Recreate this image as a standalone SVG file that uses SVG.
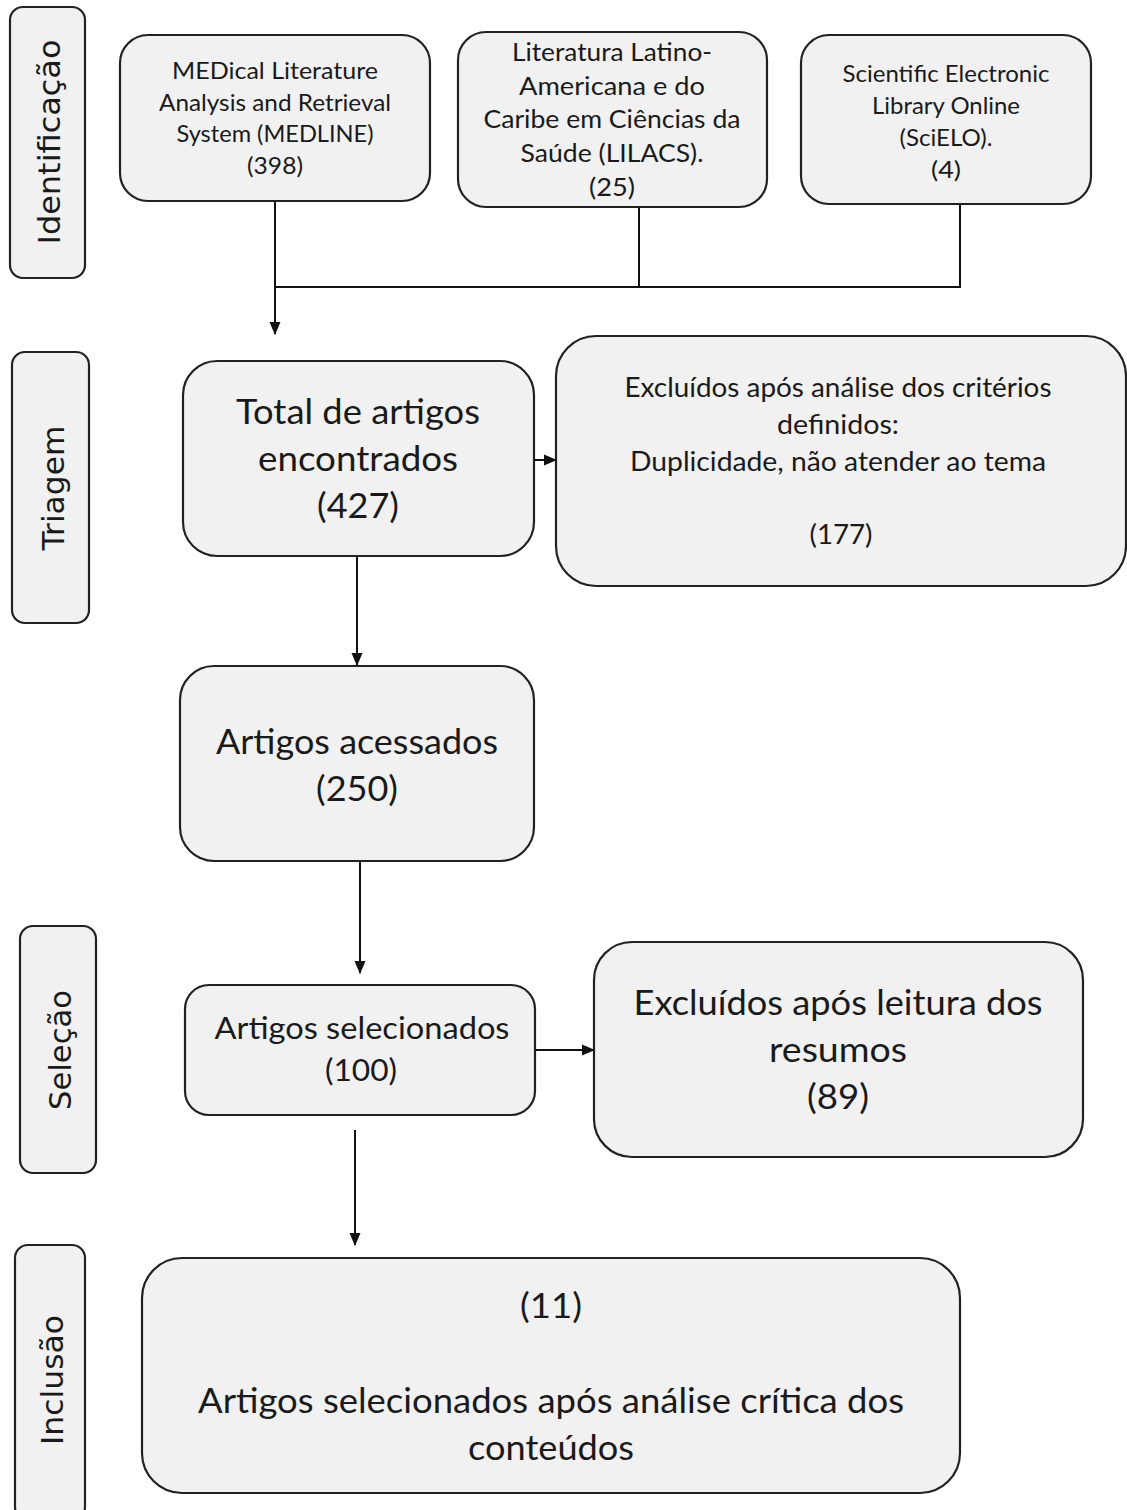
<svg xmlns="http://www.w3.org/2000/svg" width="1127" height="1510" viewBox="0 0 1127 1510">
<style>
.box{fill:#f0f1f0;stroke:#222;stroke-width:2.2}
.t{font-family:Lato,"Open Sans","Liberation Sans",sans-serif;fill:#1a1a1a;text-anchor:start}
.s{font-family:"DejaVu Sans","Liberation Sans",sans-serif;fill:#1a1a1a;text-anchor:start}
.c{stroke:#111;stroke-width:2;fill:none}
</style>
<defs>
<marker id="ah" markerUnits="userSpaceOnUse" markerWidth="13" markerHeight="13" refX="12" refY="6.5" orient="auto">
<path d="M0,1 L13,6.5 L0,12 z" fill="#111"/>
</marker>
</defs>
<rect width="1127" height="1510" fill="#fff"/>

<g id="lbl-identificacao">
<rect class="box" x="10" y="7" width="75" height="271" rx="13"/>
<text class="s" transform="translate(60,142) rotate(-90)" x="-102.5" y="0" font-size="30" textLength="205" lengthAdjust="spacingAndGlyphs">Identificação</text>
</g>
<g id="lbl-triagem">
<rect class="box" x="12" y="352" width="77" height="271" rx="13"/>
<text class="s" transform="translate(64,488) rotate(-90)" x="-62.5" y="0" font-size="30" textLength="125" lengthAdjust="spacingAndGlyphs">Triagem</text>
</g>
<g id="lbl-selecao">
<rect class="box" x="20" y="926" width="76" height="247" rx="13"/>
<text class="s" transform="translate(71,1050) rotate(-90)" x="-60" y="0" font-size="30" textLength="120" lengthAdjust="spacingAndGlyphs">Seleção</text>
</g>
<g id="lbl-inclusao">
<rect class="box" x="15" y="1245" width="70" height="275" rx="13"/>
<text class="s" transform="translate(63,1380) rotate(-90)" x="-65" y="0" font-size="30" textLength="130" lengthAdjust="spacingAndGlyphs">Inclusão</text>
</g>

<g id="medline">
<rect class="box" x="120" y="35" width="310" height="166" rx="28"/>
<text class="t" font-size="23">
<tspan x="172" y="79" textLength="206" lengthAdjust="spacingAndGlyphs">MEDical Literature</tspan>
<tspan x="159" y="111" textLength="232" lengthAdjust="spacingAndGlyphs">Analysis and Retrieval</tspan>
<tspan x="176.5" y="142" textLength="197" lengthAdjust="spacingAndGlyphs">System (MEDLINE)</tspan>
<tspan x="247" y="174" textLength="56" lengthAdjust="spacingAndGlyphs">(398)</tspan>
</text>
</g>
<g id="lilacs">
<rect class="box" x="458" y="32" width="309" height="175" rx="28"/>
<text class="t" font-size="25">
<tspan x="512" y="61" textLength="200" lengthAdjust="spacingAndGlyphs">Literatura Latino-</tspan>
<tspan x="519" y="95" textLength="186" lengthAdjust="spacingAndGlyphs">Americana e do</tspan>
<tspan x="483.5" y="128" textLength="257" lengthAdjust="spacingAndGlyphs">Caribe em Ciências da</tspan>
<tspan x="520.5" y="162" textLength="183" lengthAdjust="spacingAndGlyphs">Saúde (LILACS).</tspan>
<tspan x="589" y="196" textLength="46" lengthAdjust="spacingAndGlyphs">(25)</tspan>
</text>
</g>
<g id="scielo">
<rect class="box" x="801" y="35" width="290" height="169" rx="28"/>
<text class="t" font-size="23">
<tspan x="842.5" y="82" textLength="207" lengthAdjust="spacingAndGlyphs">Scientific Electronic</tspan>
<tspan x="872" y="114" textLength="148" lengthAdjust="spacingAndGlyphs">Library Online</tspan>
<tspan x="899.5" y="146" textLength="93" lengthAdjust="spacingAndGlyphs">(SciELO).</tspan>
<tspan x="931" y="178" textLength="30" lengthAdjust="spacingAndGlyphs">(4)</tspan>
</text>
</g>
<g id="total">
<rect class="box" x="183" y="361" width="351" height="195" rx="34"/>
<text class="t" font-size="35">
<tspan x="236" y="424" textLength="244" lengthAdjust="spacingAndGlyphs">Total de artigos</tspan>
<tspan x="258" y="471" textLength="200" lengthAdjust="spacingAndGlyphs">encontrados</tspan>
<tspan x="317" y="518" textLength="82" lengthAdjust="spacingAndGlyphs">(427)</tspan>
</text>
</g>
<g id="excl-criterios">
<rect class="box" x="556" y="336" width="570" height="250" rx="40"/>
<text class="t" font-size="26">
<tspan x="624.5" y="397" textLength="427" lengthAdjust="spacingAndGlyphs">Excluídos após análise dos critérios</tspan>
<tspan x="777" y="434" textLength="122" lengthAdjust="spacingAndGlyphs">definidos:</tspan>
<tspan x="630" y="471" textLength="416" lengthAdjust="spacingAndGlyphs">Duplicidade, não atender ao tema</tspan>
<tspan x="809.5" y="544" textLength="63" lengthAdjust="spacingAndGlyphs">(177)</tspan>
</text>
</g>
<g id="acessados">
<rect class="box" x="180" y="666" width="354" height="195" rx="34"/>
<text class="t" font-size="35">
<tspan x="216" y="754" textLength="282" lengthAdjust="spacingAndGlyphs">Artigos acessados</tspan>
<tspan x="316" y="801" textLength="82" lengthAdjust="spacingAndGlyphs">(250)</tspan>
</text>
</g>
<g id="selecionados">
<rect class="box" x="185" y="985" width="350" height="130" rx="24"/>
<text class="t" font-size="30">
<tspan x="214.5" y="1039" textLength="295" lengthAdjust="spacingAndGlyphs">Artigos selecionados</tspan>
<tspan x="325" y="1081" textLength="72" lengthAdjust="spacingAndGlyphs">(100)</tspan>
</text>
</g>
<g id="excl-resumos">
<rect class="box" x="594" y="942" width="489" height="215" rx="38"/>
<text class="t" font-size="35">
<tspan x="633.5" y="1015" textLength="409" lengthAdjust="spacingAndGlyphs">Excluídos após leitura dos</tspan>
<tspan x="769" y="1062" textLength="138" lengthAdjust="spacingAndGlyphs">resumos</tspan>
<tspan x="807" y="1109" textLength="62" lengthAdjust="spacingAndGlyphs">(89)</tspan>
</text>
</g>
<g id="final">
<rect class="box" x="142" y="1258" width="818" height="235" rx="40"/>
<text class="t" font-size="35">
<tspan x="520" y="1318" textLength="62" lengthAdjust="spacingAndGlyphs">(11)</tspan>
<tspan x="198" y="1413" textLength="706" lengthAdjust="spacingAndGlyphs">Artigos selecionados após análise crítica dos</tspan>
<tspan x="468" y="1460" textLength="166" lengthAdjust="spacingAndGlyphs">conteúdos</tspan>
</text>
</g>

<g id="connectors">
<path class="c" d="M275,201 V334" marker-end="url(#ah)"/>
<path class="c" d="M275,287 H960 V204"/>
<path class="c" d="M639,207 V287"/>
<path class="c" d="M534,460 H556" marker-end="url(#ah)"/>
<path class="c" d="M357,556 V665" marker-end="url(#ah)"/>
<path class="c" d="M360,861 V973" marker-end="url(#ah)"/>
<path class="c" d="M535,1050 H594" marker-end="url(#ah)"/>
<path class="c" d="M355,1130 V1245" marker-end="url(#ah)"/>
</g>
</svg>
